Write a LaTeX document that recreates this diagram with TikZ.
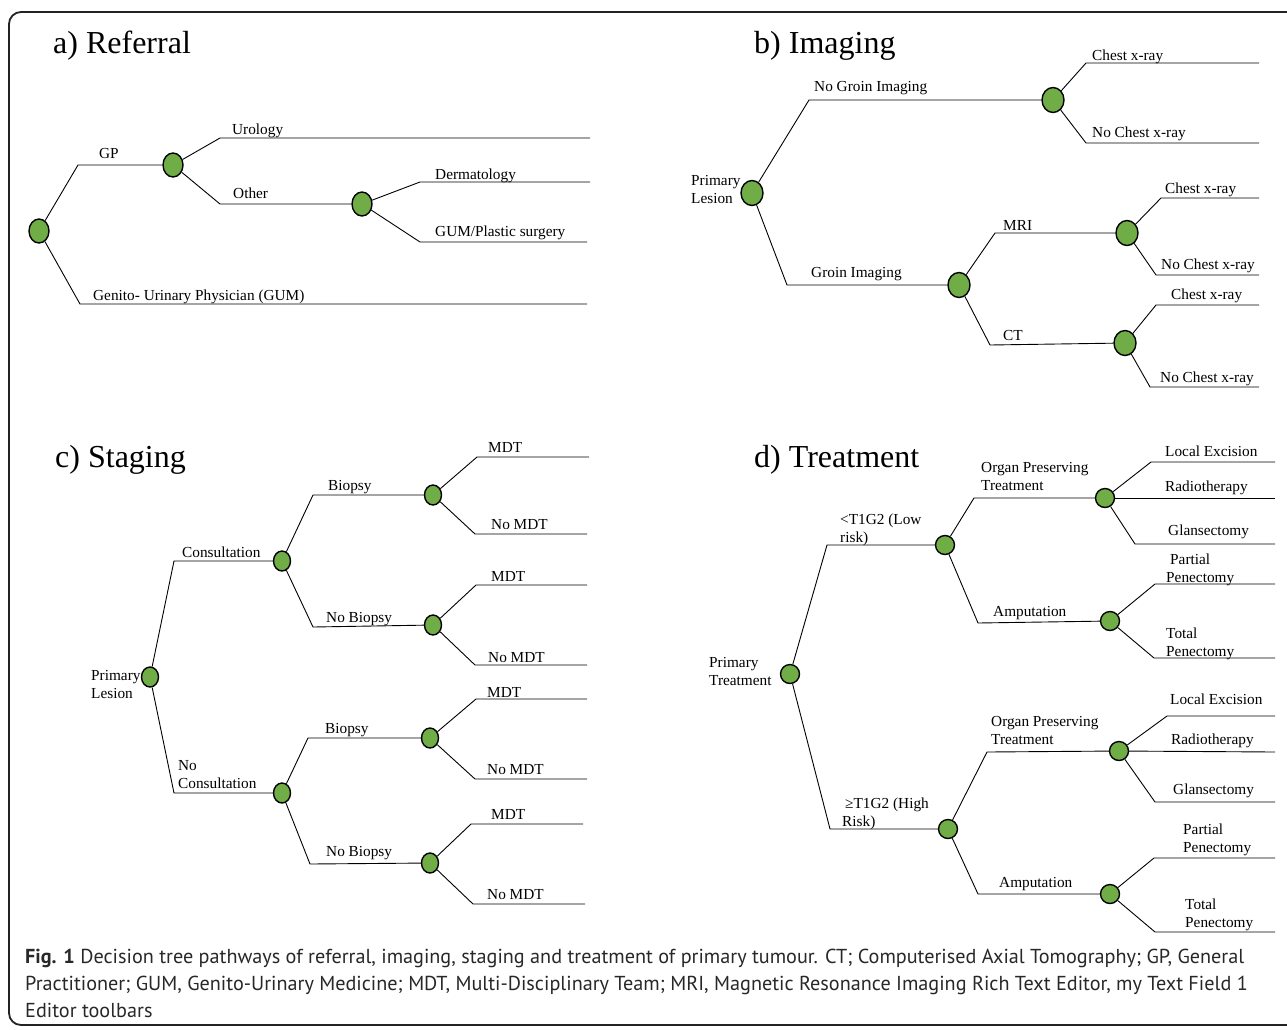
\documentclass[tikz,border=0pt]{standalone}
\usepackage{fontspec}
\setmainfont{Liberation Serif}
\newfontfamily\capfont{PT Sans}
\usetikzlibrary{shapes.geometric}
\definecolor{nodegreen}{RGB}{112,173,71}
\definecolor{framecol}{RGB}{35,35,35}
\definecolor{capcol}{RGB}{40,40,40}
\newcommand{\lblfont}{\fontsize{15.3}{18}\selectfont}
\newcommand{\ttlfont}{\fontsize{32}{36}\selectfont}
\tikzset{
  dnode/.style={ellipse, draw=black, line width=1.4pt, fill=nodegreen, inner sep=0pt},
  na/.style={dnode, minimum width=20pt, minimum height=24pt},
  nb/.style={dnode, minimum width=22pt, minimum height=25pt},
  nc/.style={dnode, minimum width=17pt, minimum height=20pt},
  nd/.style={dnode, minimum width=19pt, minimum height=19pt},
  edge/.style={draw=black, line width=0.9pt},
  lbl/.style={anchor=base west, inner sep=0pt, font=\lblfont, align=left},
  ttl/.style={anchor=base west, inner sep=0pt, font=\ttlfont},
  captxt/.style={anchor=base west, inner sep=0pt, font=\capfont\fontsize{20.2}{27}\selectfont, text=capcol}
}
\begin{document}
\begin{tikzpicture}[x=1pt, y=-1pt]
\useasboundingbox (0,0) rectangle (1287,1029);
\fill[white] (0,0) rectangle (1287,1029);
\draw[framecol, line width=1.8pt, rounded corners=12pt] (9,12) rectangle (1300,1025);

% ---------------- a) Referral ----------------
\node[ttl] (ta) at (53,53) {a) Referral};
\node[na] (a0) at (39,231) {};
\node[na] (a1) at (173,165) {};
\node[na] (a2) at (362,204) {};
\coordinate (ab1) at (78,165);
\coordinate (ab2) at (80,304);  \coordinate (ae2) at (587,304);
\coordinate (ab3) at (220,138); \coordinate (ae3) at (590,138);
\coordinate (ab4) at (220,204);
\coordinate (ab5) at (420,182); \coordinate (ae5) at (590,182);
\coordinate (ab6) at (420,242); \coordinate (ae6) at (587,242);
\draw[edge] (a0) -- (ab1) -- (a1);
\draw[edge] (a0) -- (ab2) -- (ae2);
\draw[edge] (a1) -- (ab3) -- (ae3);
\draw[edge] (a1) -- (ab4) -- (a2);
\draw[edge] (a2) -- (ab5) -- (ae5);
\draw[edge] (a2) -- (ab6) -- (ae6);
\node[lbl] (la1) at (99,158) {GP};
\node[lbl] (la2) at (93,300) {Genito- Urinary Physician (GUM)};
\node[lbl] (la3) at (232,134) {Urology};
\node[lbl] (la4) at (233,198) {Other};
\node[lbl] (la5) at (435,179) {Dermatology};
\node[lbl] (la6) at (435,236) {GUM/Plastic surgery};

% ---------------- b) Imaging ----------------
\node[ttl] (tb) at (754,53) {b) Imaging};
\node[nb] (b0) at (752,193) {};
\node[nb] (b1) at (1053,100) {};
\node[nb] (b2) at (959,285) {};
\node[nb] (b3) at (1127,233) {};
\node[nb] (b4) at (1125,343) {};
\coordinate (bb1) at (809,100);
\coordinate (bb2) at (787,285);
\coordinate (bb3) at (1086,63);  \coordinate (be3) at (1259,63);
\coordinate (bb4) at (1086,143); \coordinate (be4) at (1259,143);
\coordinate (bb5) at (995,233);
\coordinate (bb6) at (990,345);
\coordinate (bb7) at (1161,198); \coordinate (be7) at (1259,198);
\coordinate (bb8) at (1156,275); \coordinate (be8) at (1259,275);
\coordinate (bb9) at (1156,305); \coordinate (be9) at (1259,305);
\coordinate (bb10) at (1150,387); \coordinate (be10) at (1259,387);
\draw[edge] (b0) -- (bb1) -- (b1);
\draw[edge] (b0) -- (bb2) -- (b2);
\draw[edge] (b1) -- (bb3) -- (be3);
\draw[edge] (b1) -- (bb4) -- (be4);
\draw[edge] (b2) -- (bb5) -- (b3);
\draw[edge] (b2) -- (bb6) -- (b4);
\draw[edge] (b3) -- (bb7) -- (be7);
\draw[edge] (b3) -- (bb8) -- (be8);
\draw[edge] (b4) -- (bb9) -- (be9);
\draw[edge] (b4) -- (bb10) -- (be10);
\node[lbl] (lb0) at (691,203) {Primary\\Lesion};
\node[lbl] (lb1) at (814,91) {No Groin Imaging};
\node[lbl] (lb2) at (811,277) {Groin Imaging};
\node[lbl] (lb3) at (1092,60) {Chest x-ray};
\node[lbl] (lb4) at (1092,137) {No Chest x-ray};
\node[lbl] (lb5) at (1003,230) {MRI};
\node[lbl] (lb6) at (1003,340) {CT};
\node[lbl] (lb7) at (1165,193) {Chest x-ray};
\node[lbl] (lb8) at (1161,269) {No Chest x-ray};
\node[lbl] (lb9) at (1171,299) {Chest x-ray};
\node[lbl] (lb10) at (1160,382) {No Chest x-ray};

% ---------------- c) Staging ----------------
\node[ttl] (tc) at (55,467) {c) Staging};
\node[nc] (c0) at (150,677) {};
\node[nc] (c1) at (282,561) {};
\node[nc] (c2) at (282,793) {};
\node[nc] (c3) at (433,495) {};
\node[nc] (c4) at (433,625) {};
\node[nc] (c5) at (430,738) {};
\node[nc] (c6) at (430,863) {};
\coordinate (cb1) at (174,561);
\coordinate (cb2) at (174,793);
\coordinate (cb3) at (313,495);
\coordinate (cb4) at (313,627);
\coordinate (cb5) at (308,738);
\coordinate (cb6) at (310,864);
\coordinate (cb7) at (477,457);  \coordinate (ce7) at (589,457);
\coordinate (cb8) at (475,534);  \coordinate (ce8) at (587,534);
\coordinate (cb9) at (476,585);  \coordinate (ce9) at (587,585);
\coordinate (cb10) at (475,665); \coordinate (ce10) at (587,665);
\coordinate (cb11) at (476,699); \coordinate (ce11) at (587,699);
\coordinate (cb12) at (475,779); \coordinate (ce12) at (587,779);
\coordinate (cb13) at (471,824); \coordinate (ce13) at (583,824);
\coordinate (cb14) at (473,904); \coordinate (ce14) at (585,904);
\draw[edge] (c0) -- (cb1) -- (c1);
\draw[edge] (c0) -- (cb2) -- (c2);
\draw[edge] (c1) -- (cb3) -- (c3);
\draw[edge] (c1) -- (cb4) -- (c4);
\draw[edge] (c2) -- (cb5) -- (c5);
\draw[edge] (c2) -- (cb6) -- (c6);
\draw[edge] (c3) -- (cb7) -- (ce7);
\draw[edge] (c3) -- (cb8) -- (ce8);
\draw[edge] (c4) -- (cb9) -- (ce9);
\draw[edge] (c4) -- (cb10) -- (ce10);
\draw[edge] (c5) -- (cb11) -- (ce11);
\draw[edge] (c5) -- (cb12) -- (ce12);
\draw[edge] (c6) -- (cb13) -- (ce13);
\draw[edge] (c6) -- (cb14) -- (ce14);
\node[lbl] (lc0) at (91,698) {Primary\\Lesion};
\node[lbl] (lc1) at (182,557) {Consultation};
\node[lbl] (lc2) at (178,788) {No\\Consultation};
\node[lbl] (lc3) at (328,490) {Biopsy};
\node[lbl] (lc4) at (326,622) {No Biopsy};
\node[lbl] (lc5) at (325,733) {Biopsy};
\node[lbl] (lc6) at (326,856) {No Biopsy};
\node[lbl] (lc7) at (488,452) {MDT};
\node[lbl] (lc8) at (491,529) {No MDT};
\node[lbl] (lc9) at (491,581) {MDT};
\node[lbl] (lc10) at (488,662) {No MDT};
\node[lbl] (lc11) at (487,697) {MDT};
\node[lbl] (lc12) at (487,774) {No MDT};
\node[lbl] (lc13) at (491,819) {MDT};
\node[lbl] (lc14) at (487,899) {No MDT};

% ---------------- d) Treatment ----------------
\node[ttl] (td) at (754,467) {d) Treatment};
\node[nd] (d0) at (790,674) {};
\node[nd] (d1) at (945,545) {};
\node[nd] (d2) at (948,829) {};
\node[nd] (d3) at (1105,498) {};
\node[nd] (d4) at (1110,621) {};
\node[nd] (d5) at (1119,751) {};
\node[nd] (d6) at (1110,894) {};
\coordinate (db1) at (827,545);
\coordinate (db2) at (830,829);
\coordinate (db3) at (974,498);
\coordinate (db4) at (978,623);
\coordinate (db5) at (987,752);
\coordinate (db6) at (978,894);
\coordinate (db7) at (1151,462);  \coordinate (de7) at (1275,462);
\coordinate (de8) at (1275,498);
\coordinate (db9) at (1135,544);  \coordinate (de9) at (1275,544);
\coordinate (db10) at (1155,584); \coordinate (de10) at (1275,584);
\coordinate (db11) at (1154,658); \coordinate (de11) at (1275,658);
\coordinate (db12) at (1167,716); \coordinate (de12) at (1275,716);
\coordinate (de13) at (1275,752);
\coordinate (db14) at (1155,802); \coordinate (de14) at (1275,802);
\coordinate (db15) at (1154,858); \coordinate (de15) at (1275,858);
\coordinate (db16) at (1155,932); \coordinate (de16) at (1275,932);
\draw[edge] (d0) -- (db1) -- (d1);
\draw[edge] (d0) -- (db2) -- (d2);
\draw[edge] (d1) -- (db3) -- (d3);
\draw[edge] (d1) -- (db4) -- (d4);
\draw[edge] (d2) -- (db5) -- (d5);
\draw[edge] (d2) -- (db6) -- (d6);
\draw[edge] (d3) -- (db7) -- (de7);
\draw[edge] (d3) -- (de8);
\draw[edge] (d3) -- (db9) -- (de9);
\draw[edge] (d4) -- (db10) -- (de10);
\draw[edge] (d4) -- (db11) -- (de11);
\draw[edge] (d5) -- (db12) -- (de12);
\draw[edge] (d5) -- (de13);
\draw[edge] (d5) -- (db14) -- (de14);
\draw[edge] (d6) -- (db15) -- (de15);
\draw[edge] (d6) -- (db16) -- (de16);
\node[lbl] (ld0) at (709,685) {Primary\\Treatment};
\node[lbl] (ld1) at (840,542) {<T1G2 (Low\\risk)};
\node[lbl] (ld2) at (842,826) {\hspace*{3pt}≥T1G2 (High\\Risk)};
\node[lbl] (ld3) at (981,490) {Organ Preserving\\Treatment};
\node[lbl] (ld4) at (993,616) {Amputation};
\node[lbl] (ld5) at (991,744) {Organ Preserving\\Treatment};
\node[lbl] (ld6) at (999,887) {Amputation};
\node[lbl] (ld7) at (1165,456) {Local Excision};
\node[lbl] (ld8) at (1165,491) {Radiotherapy};
\node[lbl] (ld9) at (1168,535) {Glansectomy};
\node[lbl] (ld10) at (1166,582) {\hspace*{4pt}Partial\\Penectomy};
\node[lbl] (ld11) at (1166,656) {Total\\Penectomy};
\node[lbl] (ld12) at (1170,704) {Local Excision};
\node[lbl] (ld13) at (1171,744) {Radiotherapy};
\node[lbl] (ld14) at (1173,794) {Glansectomy};
\node[lbl] (ld15) at (1183,852) {Partial\\Penectomy};
\node[lbl] (ld16) at (1185,927) {Total\\Penectomy};

% ---------------- caption ----------------
\node[captxt] (cap1) at (25,963) {\textbf{Fig. 1} Decision tree pathways of referral, imaging, staging and treatment of primary tumour. CT; Computerised Axial Tomography; GP, General};
\node[captxt] (cap2) at (25,990) {Practitioner; GUM, Genito-Urinary Medicine; MDT, Multi-Disciplinary Team; MRI, Magnetic Resonance Imaging Rich Text Editor, my Text Field 1};
\node[captxt] (cap3) at (25,1017) {Editor toolbars};
\end{tikzpicture}
\end{document}
